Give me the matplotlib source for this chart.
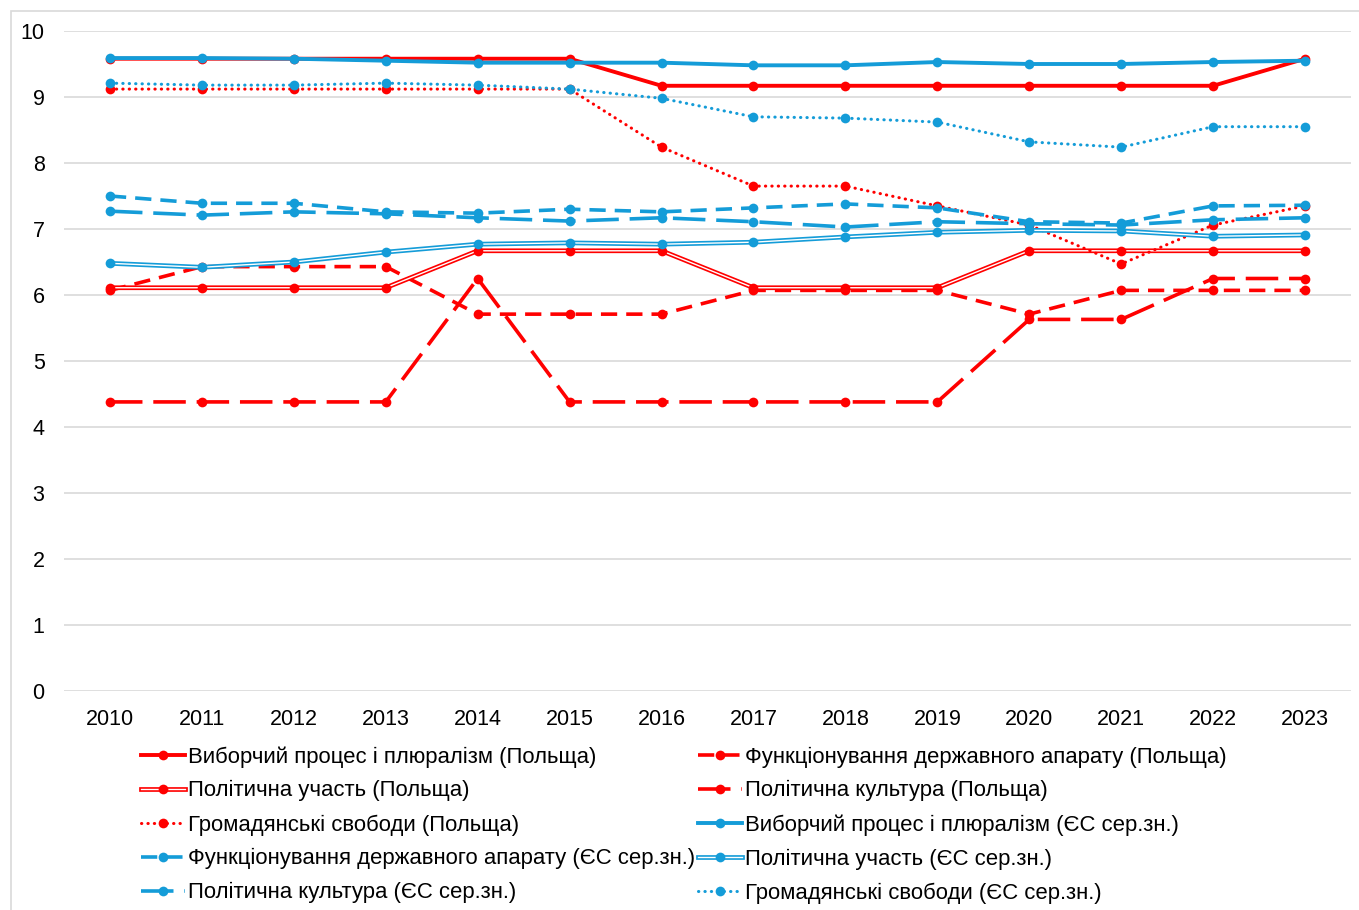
import matplotlib.pyplot as plt
from matplotlib.legend_handler import HandlerTuple
from matplotlib.patches import Rectangle

plt.rcParams['font.family'] = ['Liberation Sans', 'DejaVu Sans']

years = [str(y) for y in range(2010, 2024)]

# Poland (EIU democracy index components)
pl_electoral = [9.58, 9.58, 9.58, 9.58, 9.58, 9.58, 9.17, 9.17, 9.17, 9.17, 9.17, 9.17, 9.17, 9.58]
pl_functioning = [6.07, 6.43, 6.43, 6.43, 5.71, 5.71, 5.71, 6.07, 6.07, 6.07, 5.71, 6.07, 6.07, 6.07]
pl_participation = [6.11, 6.11, 6.11, 6.11, 6.67, 6.67, 6.67, 6.11, 6.11, 6.11, 6.67, 6.67, 6.67, 6.67]
pl_culture = [4.38, 4.38, 4.38, 4.38, 6.25, 4.38, 4.38, 4.38, 4.38, 4.38, 5.63, 5.63, 6.25, 6.25]
pl_liberties = [9.12, 9.12, 9.12, 9.12, 9.12, 9.12, 8.24, 7.65, 7.65, 7.35, 7.06, 6.47, 7.06, 7.35]

# EU average
eu_electoral = [9.59, 9.59, 9.58, 9.55, 9.52, 9.52, 9.52, 9.48, 9.48, 9.53, 9.50, 9.50, 9.53, 9.55]
eu_functioning = [7.50, 7.39, 7.39, 7.26, 7.24, 7.30, 7.26, 7.32, 7.38, 7.32, 7.11, 7.09, 7.35, 7.36]
eu_participation = [6.48, 6.42, 6.50, 6.65, 6.77, 6.79, 6.77, 6.80, 6.88, 6.95, 6.98, 6.97, 6.89, 6.91]
eu_culture = [7.27, 7.21, 7.26, 7.23, 7.17, 7.12, 7.17, 7.11, 7.03, 7.11, 7.08, 7.06, 7.14, 7.17]
eu_liberties = [9.21, 9.18, 9.18, 9.21, 9.18, 9.12, 8.98, 8.70, 8.68, 8.62, 8.32, 8.24, 8.55, 8.55]

labels = [
    'Виборчий процес і плюралізм (Польща)',
    'Функціонування державного апарату (Польща)',
    'Політична участь (Польща)',
    'Політична культура (Польща)',
    'Громадянські свободи (Польща)',
    'Виборчий процес і плюралізм (ЄС сер.зн.)',
    'Функціонування державного апарату (ЄС сер.зн.)',
    'Політична участь (ЄС сер.зн.)',
    'Політична культура (ЄС сер.зн.)',
    'Громадянські свободи (ЄС сер.зн.)',
]

RED = '#FF0000'
BLUE = '#149CD8'

fig = plt.figure(figsize=(13.59, 9.10), dpi=100)
fig.patches.append(Rectangle((11 / 1359, -0.1), 1.2, 1.1 - 11 / 910,
                             transform=fig.transFigure, fill=False,
                             edgecolor='#D9D9D9', linewidth=1.2))
ax = fig.add_axes([64 / 1359, 1 - 691 / 910, (1351 - 64) / 1359, (691 - 31) / 910])

x = list(range(len(years)))
ms = 7


def line(values, color, style, lw=2.4):
    ln, = ax.plot(x, values, color=color, linewidth=lw, marker='o',
                  markersize=ms, markeredgewidth=0, zorder=3)
    if style == 'dash':
        ln.set_dashes([4.5, 2.5])
    elif style == 'longdash':
        ln.set_dashes([9, 3])
    elif style == 'dot':
        ln.set_linewidth(2.2)
        ln.set_dashes([0.1, 2.0])
        ln.set_dash_capstyle('round')
    return ln


def double(values, color):
    outer, = ax.plot(x, values, color=color, linewidth=3.4, zorder=3)
    inner, = ax.plot(x, values, color='white', linewidth=1.0, zorder=3)
    marks, = ax.plot(x, values, color=color, linestyle='none', marker='o',
                     markersize=ms, markeredgewidth=0, zorder=4)
    return (outer, inner, marks)


handles = [
    line(pl_electoral, RED, 'solid', 2.8),
    line(pl_functioning, RED, 'dash', 2.6),
    double(pl_participation, RED),
    line(pl_culture, RED, 'longdash', 2.6),
    line(pl_liberties, RED, 'dot'),
    line(eu_electoral, BLUE, 'solid', 2.8),
    line(eu_functioning, BLUE, 'dash', 2.6),
    double(eu_participation, BLUE),
    line(eu_culture, BLUE, 'longdash', 2.6),
    line(eu_liberties, BLUE, 'dot'),
]

ax.set_xlim(-0.5, len(years) - 0.5)
ax.set_ylim(0, 10)
ax.set_yticks(range(0, 11))
ax.set_xticks(x)
ax.set_xticklabels(years)
ax.tick_params(axis='both', length=0, labelsize=15.5, colors='black')
ax.tick_params(axis='y', pad=14)
ax.tick_params(axis='x', pad=13)
ax.grid(axis='y', color='#D9D9D9', linewidth=1.2)
ax.set_axisbelow(True)
for s in ax.spines.values():
    s.set_visible(False)

# legend is read row by row in the original, matplotlib fills by column
order = [0, 2, 4, 6, 8, 1, 3, 5, 7, 9]
leg = fig.legend([handles[i] for i in order], [labels[i] for i in order],
                 ncol=2, loc='upper left', bbox_to_anchor=(141 / 1359, 1 - 746 / 910),
                 frameon=False, fontsize=15.9, handlelength=2.0, handletextpad=0.15,
                 columnspacing=0.1, labelspacing=0.58, borderaxespad=0, borderpad=0,
                 handler_map={tuple: HandlerTuple(ndivide=1, pad=0)})

fig.savefig('out.png', dpi=100)
